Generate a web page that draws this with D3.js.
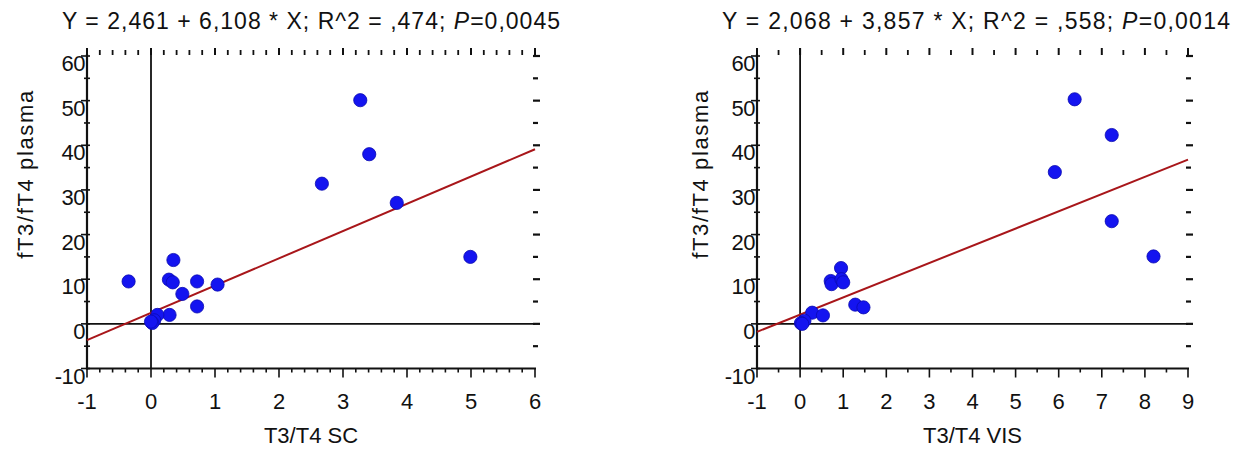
<!DOCTYPE html>
<html>
<head>
<meta charset="utf-8">
<title>fT3/fT4 regressions</title>
<style>
	body { margin: 0; background: #fff; }
	svg text { font-family: "Liberation Sans", Arial, sans-serif; fill: #111; }
	.tick-label { font-size: 22px; }
	.axis-title { font-size: 22px; }
	.title { font-size: 23px; }
</style>
<script src="https://d3js.org/d3.v7.min.js"></script>
</head>
<body>
<svg id="chart" width="1236" height="453"></svg>
<script>
// values
const yTicks = [-10, 0, 10, 20, 30, 40, 50, 60];

const scTicks = [-1, 0, 1, 2, 3, 4, 5, 6];
const scX = [-0.35, 0.35, 0.28, 0.34, 0.72, 0.49, 1.04, 0.72, 0.29, 0.10, 0.05, 0.02, 0.00, 2.67, 3.27, 3.41, 3.84, 4.99];
const scY = [9.5, 14.3, 9.9, 9.3, 9.5, 6.7, 8.8, 3.9, 2.0, 2.0, 0.8, 0.2, 0.5, 31.4, 50.1, 38.0, 27.1, 15.0];
const scFit = [2.461, 6.108];
const scTitle = ['Y = 2,461 + 6,108 * X; R^2 = ,474; ', 'P', '=0,0045'];

const visTicks = [-1, 0, 1, 2, 3, 4, 5, 6, 7, 8, 9];
const visX = [8.2, 0.95, 0.71, 0.73, 0.96, 1.0, 1.28, 1.47, 0.28, 0.53, 0.10, 0.02, 0.05, 6.37, 7.23, 5.91, 7.23];
const visY = [15.1, 12.5, 9.6, 8.9, 10.0, 9.3, 4.3, 3.7, 2.5, 1.9, 0.7, 0.15, 0.0, 50.3, 42.3, 34.0, 23.0];
const visFit = [2.068, 3.857];
const visTitle = ['Y = 2,068 + 3,857 * X; R^2 = ,558; ', 'P', '=0,0014'];

const svg = d3.select('#chart');

// spread letters so a text takes the width measured on the picture
function fitWidth(sel, width) {
	const n = sel.text().length;
	const len = sel.node().getComputedTextLength();
	sel.style('letter-spacing', ((width - len) / (n - 1)) + 'px');
}

function drawPanel(o) {
	const g = svg.append('g');
	const x = d3.scaleLinear().domain([o.ticks[0], o.ticks[o.ticks.length - 1]]).range([o.left, o.right]);
	const y = d3.scaleLinear().domain([-10, 60]).range([368.5, 56]);
	const [x0, x1] = x.domain();

	// title
	const t = g.append('text').attr('class', 'title')
		.attr('x', o.titleX).attr('y', 29).attr('text-anchor', 'start');
	t.append('tspan').text(o.title[0]);
	t.append('tspan').style('font-style', 'italic').text(o.title[1]);
	t.append('tspan').text(o.title[2]);
	fitWidth(t, o.titleW);

	// x ticks (top and bottom)
	const xt = d3.range(x0, x1 + o.xStep / 2, o.xStep);
	const isMajor = v => Math.abs(v - Math.round(v)) < 1e-6;
	g.selectAll('.xtop').data(xt).join('line')
		.attr('x1', d => x(d)).attr('x2', d => x(d))
		.attr('y1', y(60) - 1).attr('y2', d => y(60) - (isMajor(d) ? 8 : 6))
		.attr('stroke', '#111').attr('stroke-width', d => isMajor(d) ? 2 : 1.8);
	g.selectAll('.xbot').data(xt).join('line')
		.attr('x1', d => x(d)).attr('x2', d => x(d))
		.attr('y1', y(-10)).attr('y2', d => y(-10) + (isMajor(d) ? 9 : 4))
		.attr('stroke', '#111').attr('stroke-width', 1.6);

	// y ticks left and right
	const yt = d3.range(-10, 61, 5);
	g.selectAll('.yl').data(yt).join('line')
		.attr('x1', d => o.left - (d % 10 === 0 ? 6 : 3)).attr('x2', d => o.left + 3)
		.attr('y1', d => y(d)).attr('y2', d => y(d))
		.attr('stroke', '#111').attr('stroke-width', 1.6);
	g.selectAll('.yr').data(yt.filter(d => d > -10)).join('line')
		.attr('x1', o.right - 2).attr('x2', d => o.right + (d % 10 === 0 ? 5 : 3))
		.attr('y1', d => y(d)).attr('y2', d => y(d))
		.attr('stroke', '#111').attr('stroke-width', 2.2);

	// frame: left and bottom axes
	g.append('line').attr('x1', o.left).attr('x2', o.left).attr('y1', y(60) - 2).attr('y2', y(-10) + 1)
		.attr('stroke', '#111').attr('stroke-width', 2.2);
	g.append('line').attr('x1', o.left).attr('x2', o.right + 1).attr('y1', y(-10)).attr('y2', y(-10))
		.attr('stroke', '#111').attr('stroke-width', 2.2);

	// zero lines
	g.append('line').attr('x1', o.left).attr('x2', o.right).attr('y1', y(0)).attr('y2', y(0))
		.attr('stroke', '#111').attr('stroke-width', 1.6);
	g.append('line').attr('x1', x(0)).attr('x2', x(0)).attr('y1', y(60) - 8).attr('y2', y(-10))
		.attr('stroke', '#111').attr('stroke-width', 1.8);

	// tick labels
	g.selectAll('.xlab').data(o.ticks).join('text').attr('class', 'tick-label')
		.attr('x', d => x(d)).attr('y', 409).attr('text-anchor', 'middle')
		.text(d => d < 0 ? '-' + Math.abs(d) : d);
	g.selectAll('.ylab').data(yTicks).join('text').attr('class', 'tick-label')
		.attr('x', o.left - 2).attr('y', d => y(d) + 15).attr('text-anchor', 'end')
		.style('letter-spacing', '-0.5px')
		.text(d => d < 0 ? '-' + Math.abs(d) : d);

	// axis titles
	g.append('text').attr('class', 'axis-title')
		.attr('x', (o.left + o.right) / 2).attr('y', 443).attr('text-anchor', 'middle').text(o.xTitle);
	const yTitle = g.append('text').attr('class', 'axis-title')
		.attr('transform', `translate(${o.yTitleX},174) rotate(-90)`)
		.attr('text-anchor', 'middle').text('fT3/fT4 plasma');
	fitWidth(yTitle, 168);

	// regression line
	g.append('line')
		.attr('x1', x(x0)).attr('y1', y(o.fit[0] + o.fit[1] * x0))
		.attr('x2', x(x1)).attr('y2', y(o.fit[0] + o.fit[1] * x1))
		.attr('stroke', '#a8161a').attr('stroke-width', 2);

	// points
	const pts = o.xs.map((v, i) => [v, o.ys[i]]);
	g.selectAll('circle').data(pts).join('circle')
		.attr('cx', d => x(d[0])).attr('cy', d => y(d[1])).attr('r', 6.6)
		.attr('fill', '#1414f0').attr('stroke', '#0a0ab0').attr('stroke-width', 0.8);
}

drawPanel({ left: 87, right: 535, ticks: scTicks, xStep: 0.2, xs: scX, ys: scY, fit: scFit,
	title: scTitle, titleX: 62, titleW: 498, xTitle: 'T3/T4 SC', yTitleX: 33 });
drawPanel({ left: 757, right: 1188, ticks: visTicks, xStep: 0.5, xs: visX, ys: visY, fit: visFit,
	title: visTitle, titleX: 722, titleW: 508, xTitle: 'T3/T4 VIS', yTitleX: 708 });
</script>
</body>
</html>
